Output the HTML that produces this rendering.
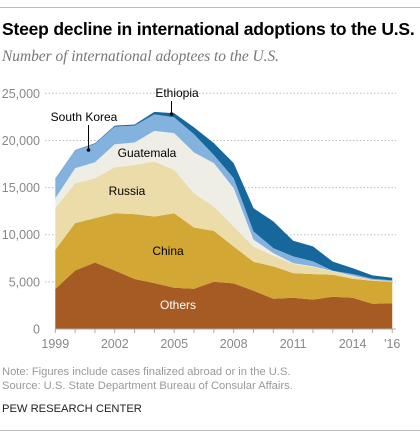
<!DOCTYPE html>
<html><head><meta charset="utf-8"><style>
body{margin:0;background:#fff;width:420px;height:438px;overflow:hidden;font-family:"Liberation Sans",sans-serif;}
.t{position:absolute;left:2px;top:19px;font-size:17.5px;font-weight:bold;color:#000;letter-spacing:-0.2px}
.s{position:absolute;left:2px;top:48px;font-family:"Liberation Serif",serif;font-style:italic;font-size:15.4px;color:#777}
.n{position:absolute;left:2px;font-size:11.2px;color:#999}
.p{position:absolute;left:2px;top:403px;font-size:11.2px;color:#222}
.hr{position:absolute;left:0;width:420px;height:1px;background:#bbb}
</style></head><body>
<div class="hr" style="top:7px"></div>
<div class="t">Steep decline in international adoptions to the U.S.</div>
<div class="s">Number of international adoptees to the U.S.</div>
<svg id="c" width="420" height="438" style="position:absolute;left:0;top:0"></svg>
<div class="n" style="top:366px">Note: Figures include cases finalized abroad or in the U.S.</div>
<div class="n" style="top:380px">Source: U.S. State Department Bureau of Consular Affairs.</div>
<div class="p">PEW RESEARCH CENTER</div>
<div class="hr" style="top:430px"></div>
<script>
const years=[1999,2000,2001,2002,2003,2004,2005,2006,2007,2008,2009,2010,2011,2012,2013,2014,2015,2016];
const others=[4240,6210,7060,6210,5300,4870,4380,4270,5010,4840,4060,3210,3320,3110,3420,3320,2680,2720];
const china=[4160,5020,4700,6070,6880,7060,7900,6500,5400,3910,3070,3430,2610,2710,2330,2010,2440,2290];
const russia=[4410,4230,4230,4880,5220,5830,4590,3630,2580,2120,1620,1130,990,750,360,250,100,70];
const guatemala=[1060,1590,1700,2440,2380,3260,3900,4320,4600,4070,720,280,70,70,40,70,0,0];
const southKorea=[2020,1880,1950,1870,1790,1750,1680,1930,870,1050,870,530,710,530,30,180,110,80];
const ethiopia=[40,40,60,100,120,260,440,730,1250,1600,2480,2830,1660,1590,960,630,360,280];
const yTicks=[0,5000,10000,15000,20000,25000];
const xTickLabels=["1999","2002","2005","2008","2011","2014","'16"];
const xTickYears=[1999,2002,2005,2008,2011,2014,2016];
const NS="http://www.w3.org/2000/svg",svg=document.getElementById('c');
const X=y=>55.3+(y-1999)*19.82, Y=v=>329-v*(235.7/25000);
function mk(t,a){const e=document.createElementNS(NS,t);for(const k in a)e.setAttribute(k,a[k]);svg.appendChild(e);return e;}
yTicks.forEach(v=>{
 if(v>0){const g=mk('line',{x1:45,x2:396,y1:Y(v),y2:Y(v),stroke:'#bbb','stroke-dasharray':'1.5,2','stroke-width':1});
 
 }
 const t=mk('text',{x:40,y:Y(v)+4.5,'text-anchor':'end','font-size':12.5,fill:'#888','font-family':'Liberation Sans'});
 t.textContent=v.toLocaleString('en-US');
 
 
});
const series=[[others,'#a65b25','others'],[china,'#d3a733','china'],[russia,'#ecdcaa','russia'],[guatemala,'#efeee6','guatemala'],[southKorea,'#84b2df','south-korea'],[ethiopia,'#16679b','ethiopia']];
let base=years.map(()=>0);
series.forEach(([vals,col,nm])=>{
 const top=base.map((b,i)=>b+vals[i]);
 let d='M'+years.map((y,i)=>X(y)+','+Y(top[i])).join('L');
 for(let i=years.length-1;i>=0;i--)d+='L'+X(years[i])+','+Y(base[i]);
 const p=mk('path',{d:d+'Z',fill:col});
 
 
 base=top;
});
const ax=mk('line',{x1:55,x2:396,y1:329,y2:329,stroke:'#aaa'});


years.forEach(y=>{mk('line',{x1:X(y),x2:X(y),y1:329,y2:333,stroke:'#aaa'});});
xTickYears.forEach((y,i)=>{
 const t=mk('text',{x:X(y),y:348,'text-anchor':'middle','font-size':12.5,fill:'#888','font-family':'Liberation Sans'});
 t.textContent=xTickLabels[i];
 
 
});
function lab(txt,x,y,col,nm){const t=mk('text',{x:x,y:y,'text-anchor':'middle','font-size':12,fill:col,'font-family':'Liberation Sans'});t.textContent=txt;
 
 }
lab('Ethiopia',177,97,'#000','label-ethiopia');
lab('South Korea',84,121,'#000','label-south-korea');
lab('Guatemala',147,157,'#000','label-guatemala');
lab('Russia',127,195,'#000','label-russia');
lab('China',168,255,'#000','label-china');
lab('Others',178,309,'#fff','label-others');
mk('line',{x1:171.5,x2:171.5,y1:101,y2:114,stroke:'#000'});mk('circle',{cx:171.5,cy:114,r:1.8,fill:'#000'});
mk('line',{x1:88.5,x2:88.5,y1:125,y2:150,stroke:'#000'});mk('circle',{cx:88.5,cy:150,r:1.8,fill:'#000'});
</script>
</body></html>
